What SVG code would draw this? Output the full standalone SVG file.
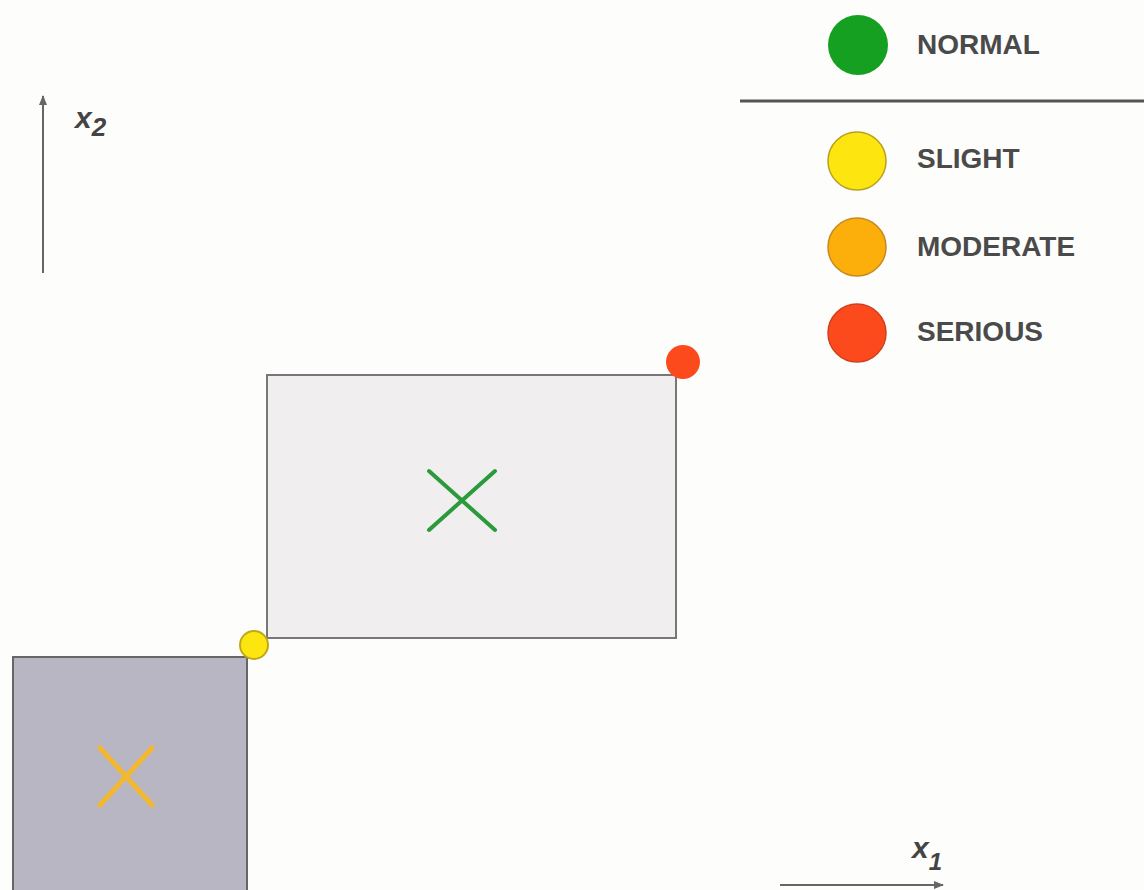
<svg xmlns="http://www.w3.org/2000/svg" width="1144" height="890" viewBox="0 0 1144 890">
<style>
.lbl{font-family:"Liberation Sans",Arial,sans-serif;font-weight:bold;font-size:28px;fill:#4a4a4a}
.ax{font-family:"Liberation Sans",Arial,sans-serif;font-weight:bold;font-style:italic;fill:#444}
.axis{stroke:#666;stroke-width:2;fill:none}
.dot{stroke-width:1.5}
</style>
<defs>
<marker id="arr" markerWidth="10" markerHeight="8" refX="9" refY="4" orient="auto" markerUnits="userSpaceOnUse">
<path d="M0,0 L10,4 L0,8 Z" fill="#666"/>
</marker>
</defs>
<rect width="1144" height="890" fill="#fdfdfc"/>
<g id="axes">
<line class="axis" x1="43" y1="273" x2="43" y2="96" marker-end="url(#arr)"/>
<text class="ax" x="75" y="128" font-size="30">x<tspan font-size="26" dy="8">2</tspan></text>
<line class="axis" x1="780" y1="885" x2="943" y2="885" marker-end="url(#arr)"/>
<text class="ax" x="912" y="858" font-size="30">x<tspan font-size="24" dy="12">1</tspan></text>
</g>
<g id="legend">
<circle cx="858" cy="45" r="30" fill="#16a021"/>
<text class="lbl" x="917" y="54">NORMAL</text>
<line x1="740" y1="101" x2="1144" y2="101" stroke="#555" stroke-width="3"/>
<circle class="dot" cx="857" cy="161" r="29" fill="#fde610" stroke="#b8a020"/>
<text class="lbl" x="917" y="168">SLIGHT</text>
<circle class="dot" cx="857" cy="247" r="29" fill="#fcae0a" stroke="#c88a20"/>
<text class="lbl" x="917" y="256">MODERATE</text>
<circle class="dot" cx="857" cy="333" r="29" fill="#fc4a1c" stroke="#d04020"/>
<text class="lbl" x="917" y="341">SERIOUS</text>
</g>
<g id="upper-box">
<rect x="267" y="375" width="409" height="263" fill="#f0eeee" stroke="#777" stroke-width="2"/>
<line x1="429" y1="471" x2="495" y2="530" stroke="#2a9a3a" stroke-width="4" stroke-linecap="round"/>
<line x1="495" y1="471" x2="429" y2="530" stroke="#2a9a3a" stroke-width="4" stroke-linecap="round"/>
<circle cx="683" cy="362" r="17" fill="#fc4a1c"/>
</g>
<g id="lower-box">
<rect x="13" y="657" width="234" height="240" fill="#b9b6c4" stroke="#666" stroke-width="2"/>
<line x1="100" y1="748" x2="152" y2="805" stroke="#f2b830" stroke-width="5" stroke-linecap="round"/>
<line x1="152" y1="748" x2="100" y2="805" stroke="#f2b830" stroke-width="5" stroke-linecap="round"/>
<circle cx="254" cy="645" r="14" fill="#fde610" stroke="#c0a818" stroke-width="2"/>
</g>
</svg>
